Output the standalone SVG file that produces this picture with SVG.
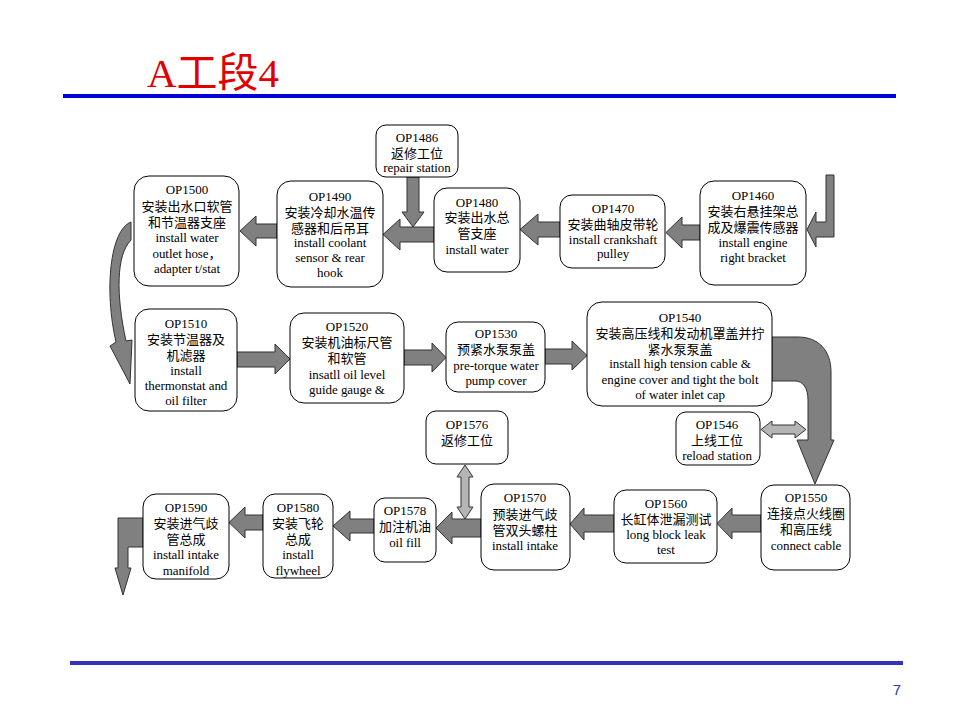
<svg xmlns="http://www.w3.org/2000/svg" width="960" height="720" viewBox="0 0 960 720">
<style>
.box{fill:#fff;stroke:#000;stroke-width:1}
.t{font-family:"Liberation Serif","Noto Sans CJK SC",serif;font-size:13px;fill:#000;text-anchor:middle}
.e{letter-spacing:-0.05px}
.c{font-family:"Noto Sans CJK SC","Liberation Sans",sans-serif;font-size:13px}
.ar{fill:#808080;stroke:#333;stroke-width:1;stroke-linejoin:miter}
.ar2{fill:#b5b5b5;stroke:#333;stroke-width:1}
.title{font-family:"Liberation Serif","Noto Sans CJK SC",serif;font-size:41px;fill:#e00000}
.pg{font-family:"Liberation Sans",sans-serif;font-size:15px;fill:#3333c0;text-anchor:middle}
</style>
<rect width="960" height="720" fill="#fff"/>
<text class="title" x="147" y="87">A工段4</text>
<rect x="63" y="94" width="833" height="4" fill="#0000d8"/>
<rect x="70" y="661" width="833" height="4" fill="#3333c0"/>
<text class="pg" x="897" y="695">7</text>

<g id="connectors">
<polygon class="ar" points="826,175 834,175 834,237 816,237 816,247 807,229.5 816,212 816,222 826,222"/>
<polygon class="ar" points="700,225 682,225 682,217 666,232.5 682,248 682,240 700,240"/>
<polygon class="ar" points="560,222 538,222 538,214 520,229.5 538,245 538,237 560,237"/>
<polygon class="ar" points="434,227 400,227 400,219 383,234.5 400,250 400,242 434,242"/>
<polygon class="ar" points="407,177 419,177 419,212 424,212 413,227 402,212 407,212"/>
<polygon class="ar" points="277,224 256,224 256,216 240,231 256,246 256,238 277,238"/>
<path class="ar" d="M131,222 C110,230 104,290 116,342 L110,346 L130,384 L132,340 L126,341 C116,295 116,255 131,240 Z"/>
<polygon class="ar" points="237,352 275,352 275,344 290,359 275,374 275,367 237,367"/>
<polygon class="ar" points="404,350 432,350 432,343 446,357.5 432,372 432,365 404,365"/>
<polygon class="ar" points="545,349 572,349 572,341 587,355.5 572,370 572,364 545,364"/>
<path class="ar" d="M772,337 L798,337 C818,337 831,350 831,372 L831,440 L834,440 L815,484 L797,440 L808,440 L808,400 C808,388 803,381 795,381 L772,381 Z"/>
<polygon class="ar2" points="761,429.5 772,421 772,425 795,425 795,421 806,429.5 795,438 795,434 772,434 772,438"/>
<polygon class="ar2" points="465,465 473,477 469,477 469,507 473,507 465,519 457,507 461,507 461,477 457,477"/>
<polygon class="ar" points="761,515 732,515 732,508 717,523.5 732,539 732,532 761,532"/>
<polygon class="ar" points="614,515 584,515 584,508 570,524 584,540 584,532 614,532"/>
<polygon class="ar" points="481,519 452,519 452,512 436,528 452,544 452,537 481,537"/>
<polygon class="ar" points="374,519 350,519 350,511 333,526 350,541 350,533 374,533"/>
<polygon class="ar" points="263,515 245,515 245,507 229,522.5 245,538 245,530 263,530"/>
<polygon class="ar" points="118,518 143,518 143,547 128,547 128,568 131,568 123,595 115,568 118,568"/>
</g>

<g id="op1486"><rect class="box" x="376" y="125" width="82" height="52" rx="10"/>
<text class="t"><tspan x="417" y="142">OP1486</tspan><tspan class="c" x="417" y="158">返修工位</tspan><tspan class="e" x="417" y="172">repair station</tspan></text></g>

<g id="op1490"><rect class="box" x="277" y="181" width="106" height="106" rx="14"/>
<text class="t"><tspan x="330" y="201">OP1490</tspan><tspan class="c" x="330" y="217">安装冷却水温传</tspan><tspan class="c" x="330" y="233">感器和后吊耳</tspan><tspan class="e" x="330" y="247">install coolant</tspan><tspan class="e" x="330" y="262">sensor &amp; rear</tspan><tspan class="e" x="330" y="277">hook</tspan></text></g>

<g id="op1480"><rect class="box" x="434" y="188" width="86" height="84" rx="13"/>
<text class="t"><tspan x="477" y="207">OP1480</tspan><tspan class="c" x="477" y="222">安装出水总</tspan><tspan class="c" x="477" y="238">管支座</tspan><tspan class="e" x="477" y="254">install water</tspan></text></g>

<g id="op1470"><rect class="box" x="560" y="195" width="105" height="73" rx="12"/>
<text class="t"><tspan x="613" y="213">OP1470</tspan><tspan class="c" x="613" y="229">安装曲轴皮带轮</tspan><tspan class="e" x="613" y="244">install  crankshaft</tspan><tspan class="e" x="613" y="258">pulley</tspan></text></g>

<g id="op1460"><rect class="box" x="700" y="181" width="106" height="104" rx="14"/>
<text class="t"><tspan x="753" y="200">OP1460</tspan><tspan class="c" x="753" y="216">安装右悬挂架总</tspan><tspan class="c" x="753" y="232">成及爆震传感器</tspan><tspan class="e" x="753" y="247">install engine</tspan><tspan class="e" x="753" y="262">right bracket</tspan></text></g>

<g id="op1500"><rect class="box" x="134" y="176" width="105" height="110" rx="15"/>
<text class="t"><tspan x="187" y="194">OP1500</tspan><tspan class="c" x="187" y="211">安装出水口软管</tspan><tspan class="c" x="187" y="227">和节温器支座</tspan><tspan class="e" x="187" y="242">install water</tspan><tspan class="e" x="187" y="258">outlet hose，</tspan><tspan class="e" x="187" y="273">adapter t/stat</tspan></text></g>

<g id="op1510"><rect class="box" x="135" y="309" width="102" height="102" rx="14"/>
<text class="t"><tspan x="186" y="328">OP1510</tspan><tspan class="c" x="186" y="344">安装节温器及</tspan><tspan class="c" x="186" y="360">机滤器</tspan><tspan class="e" x="186" y="375">install</tspan><tspan class="e" x="186" y="390">thermonstat and</tspan><tspan class="e" x="186" y="405">oil filter</tspan></text></g>

<g id="op1520"><rect class="box" x="290" y="313" width="114" height="90" rx="14"/>
<text class="t"><tspan x="347" y="331">OP1520</tspan><tspan class="c" x="347" y="347">安装机油标尺管</tspan><tspan class="c" x="347" y="363">和软管</tspan><tspan class="e" x="347" y="379">insatll oil level</tspan><tspan class="e" x="347" y="394">guide gauge &amp;</tspan></text></g>

<g id="op1530"><rect class="box" x="446" y="322" width="99" height="70" rx="12"/>
<text class="t"><tspan x="496" y="338">OP1530</tspan><tspan class="c" x="496" y="354">预紧水泵泵盖</tspan><tspan class="e" x="496" y="370">pre-torque water</tspan><tspan class="e" x="496" y="385">pump cover</tspan></text></g>

<g id="op1540"><rect class="box" x="587" y="302" width="185" height="104" rx="15"/>
<text class="t"><tspan x="680" y="322">OP1540</tspan><tspan class="c" x="680" y="338">安装高压线和发动机罩盖并拧</tspan><tspan class="c" x="680" y="354">紧水泵泵盖</tspan><tspan class="e" x="680" y="368">install high tension cable &amp;</tspan><tspan class="e" x="680" y="384">engine cover  and tight the bolt</tspan><tspan class="e" x="680" y="399">of water inlet cap</tspan></text></g>

<g id="op1546"><rect class="box" x="676" y="412" width="84" height="53" rx="10"/>
<text class="t"><tspan x="717" y="429">OP1546</tspan><tspan class="c" x="717" y="445">上线工位</tspan><tspan class="e" x="717" y="460">reload station</tspan></text></g>

<g id="op1576"><rect class="box" x="426" y="411" width="82" height="53" rx="10"/>
<text class="t"><tspan x="467" y="429">OP1576</tspan><tspan class="c" x="467" y="445">返修工位</tspan></text></g>

<g id="op1550"><rect class="box" x="761" y="485" width="89" height="85" rx="13"/>
<text class="t"><tspan x="806" y="502">OP1550</tspan><tspan class="c" x="806" y="518">连接点火线圈</tspan><tspan class="c" x="806" y="534">和高压线</tspan><tspan class="e" x="806" y="550">connect cable</tspan></text></g>

<g id="op1560"><rect class="box" x="614" y="490" width="103" height="73" rx="12"/>
<text class="t"><tspan x="666" y="508">OP1560</tspan><tspan class="c" x="666" y="524">长缸体泄漏测试</tspan><tspan class="e" x="666" y="539">long block leak</tspan><tspan class="e" x="666" y="554">test</tspan></text></g>

<g id="op1570"><rect class="box" x="481" y="484" width="89" height="86" rx="13"/>
<text class="t"><tspan x="525" y="502">OP1570</tspan><tspan class="c" x="525" y="519">预装进气歧</tspan><tspan class="c" x="525" y="535">管双头螺柱</tspan><tspan class="e" x="525" y="550">install intake</tspan></text></g>

<g id="op1578"><rect class="box" x="374" y="498" width="62" height="64" rx="11"/>
<text class="t"><tspan x="405" y="515">OP1578</tspan><tspan class="c" x="405" y="531">加注机油</tspan><tspan class="e" x="405" y="547">oil fill</tspan></text></g>

<g id="op1580"><rect class="box" x="263" y="494" width="70" height="84" rx="12"/>
<text class="t"><tspan x="298" y="512">OP1580</tspan><tspan class="c" x="298" y="528">安装飞轮</tspan><tspan class="c" x="298" y="544">总成</tspan><tspan class="e" x="298" y="559">install</tspan><tspan class="e" x="298" y="575">flywheel</tspan></text></g>

<g id="op1590"><rect class="box" x="143" y="494" width="86" height="85" rx="13"/>
<text class="t"><tspan x="186" y="512">OP1590</tspan><tspan class="c" x="186" y="528">安装进气歧</tspan><tspan class="c" x="186" y="544">管总成</tspan><tspan class="e" x="186" y="559">install intake</tspan><tspan class="e" x="186" y="575">manifold</tspan></text></g>
</svg>
